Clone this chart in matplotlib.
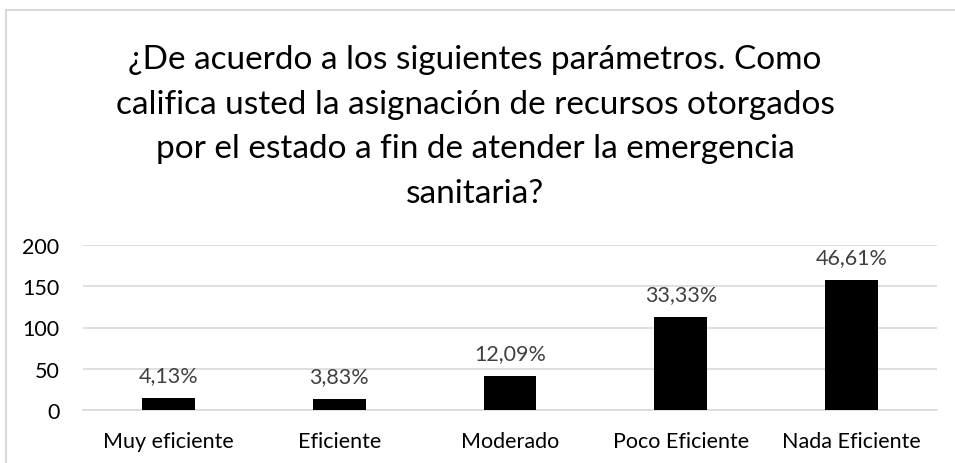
import matplotlib
matplotlib.use("Agg")
import matplotlib.pyplot as plt
from matplotlib.patches import Rectangle

categories = ["Muy eficiente", "Eficiente", "Moderado", "Poco Eficiente", "Nada Eficiente"]
counts = [14, 13, 41, 113, 158]
pct_labels = ["4,13%", "3,83%", "12,09%", "33,33%", "46,61%"]
yticks = [0, 50, 100, 150, 200]

plt.rcParams['font.family'] = ['Lato', 'DejaVu Sans']

fig = plt.figure(figsize=(9.55, 4.64), dpi=100)
ax = fig.add_axes([83/955, 1-411/464, (937-83)/955, (411-246)/464])

x = range(len(categories))
ax.bar(x, counts, width=0.31, color="black", zorder=3)
for i, v in enumerate(counts):
    ax.annotate(pct_labels[i], (i, v), xytext=(0, 16.5), textcoords="offset points",
                ha="center", va="center", fontsize=15.5, color="#404040")

ax.set_xlim(-0.5, len(categories) - 0.5)
ax.set_ylim(0, 200)
ax.set_yticks(yticks)
ax.set_xticks(list(x))
ax.set_xticklabels(categories)
ax.grid(axis="y", color="#d9d9d9", linewidth=1.2, zorder=0)
for s in ["top", "right", "left"]:
    ax.spines[s].set_visible(False)
ax.spines["bottom"].set_color("#d9d9d9")
ax.spines["bottom"].set_linewidth(1.2)
ax.tick_params(axis="both", length=0, labelsize=15.5, colors="#000000")
ax.tick_params(axis="y", pad=17)
ax.tick_params(axis="x", pad=15)

title = ("¿De acuerdo a los siguientes parámetros. Como\n"
         "califica usted la asignación de recursos otorgados\n"
         "por el estado a fin de atender la emergencia\n"
         "sanitaria?")
fig.text(475/955, 1-127/464, title, ha="center", va="center", fontsize=24,
         linespacing=1.6, color="#000000")

# chart border
fig.patches.append(Rectangle((6/955, -0.05), 1.1, 1.05 - 11/464, transform=fig.transFigure,
                             fill=False, edgecolor="#d9d9d9", linewidth=1.5))

fig.savefig("out.png", dpi=100)
